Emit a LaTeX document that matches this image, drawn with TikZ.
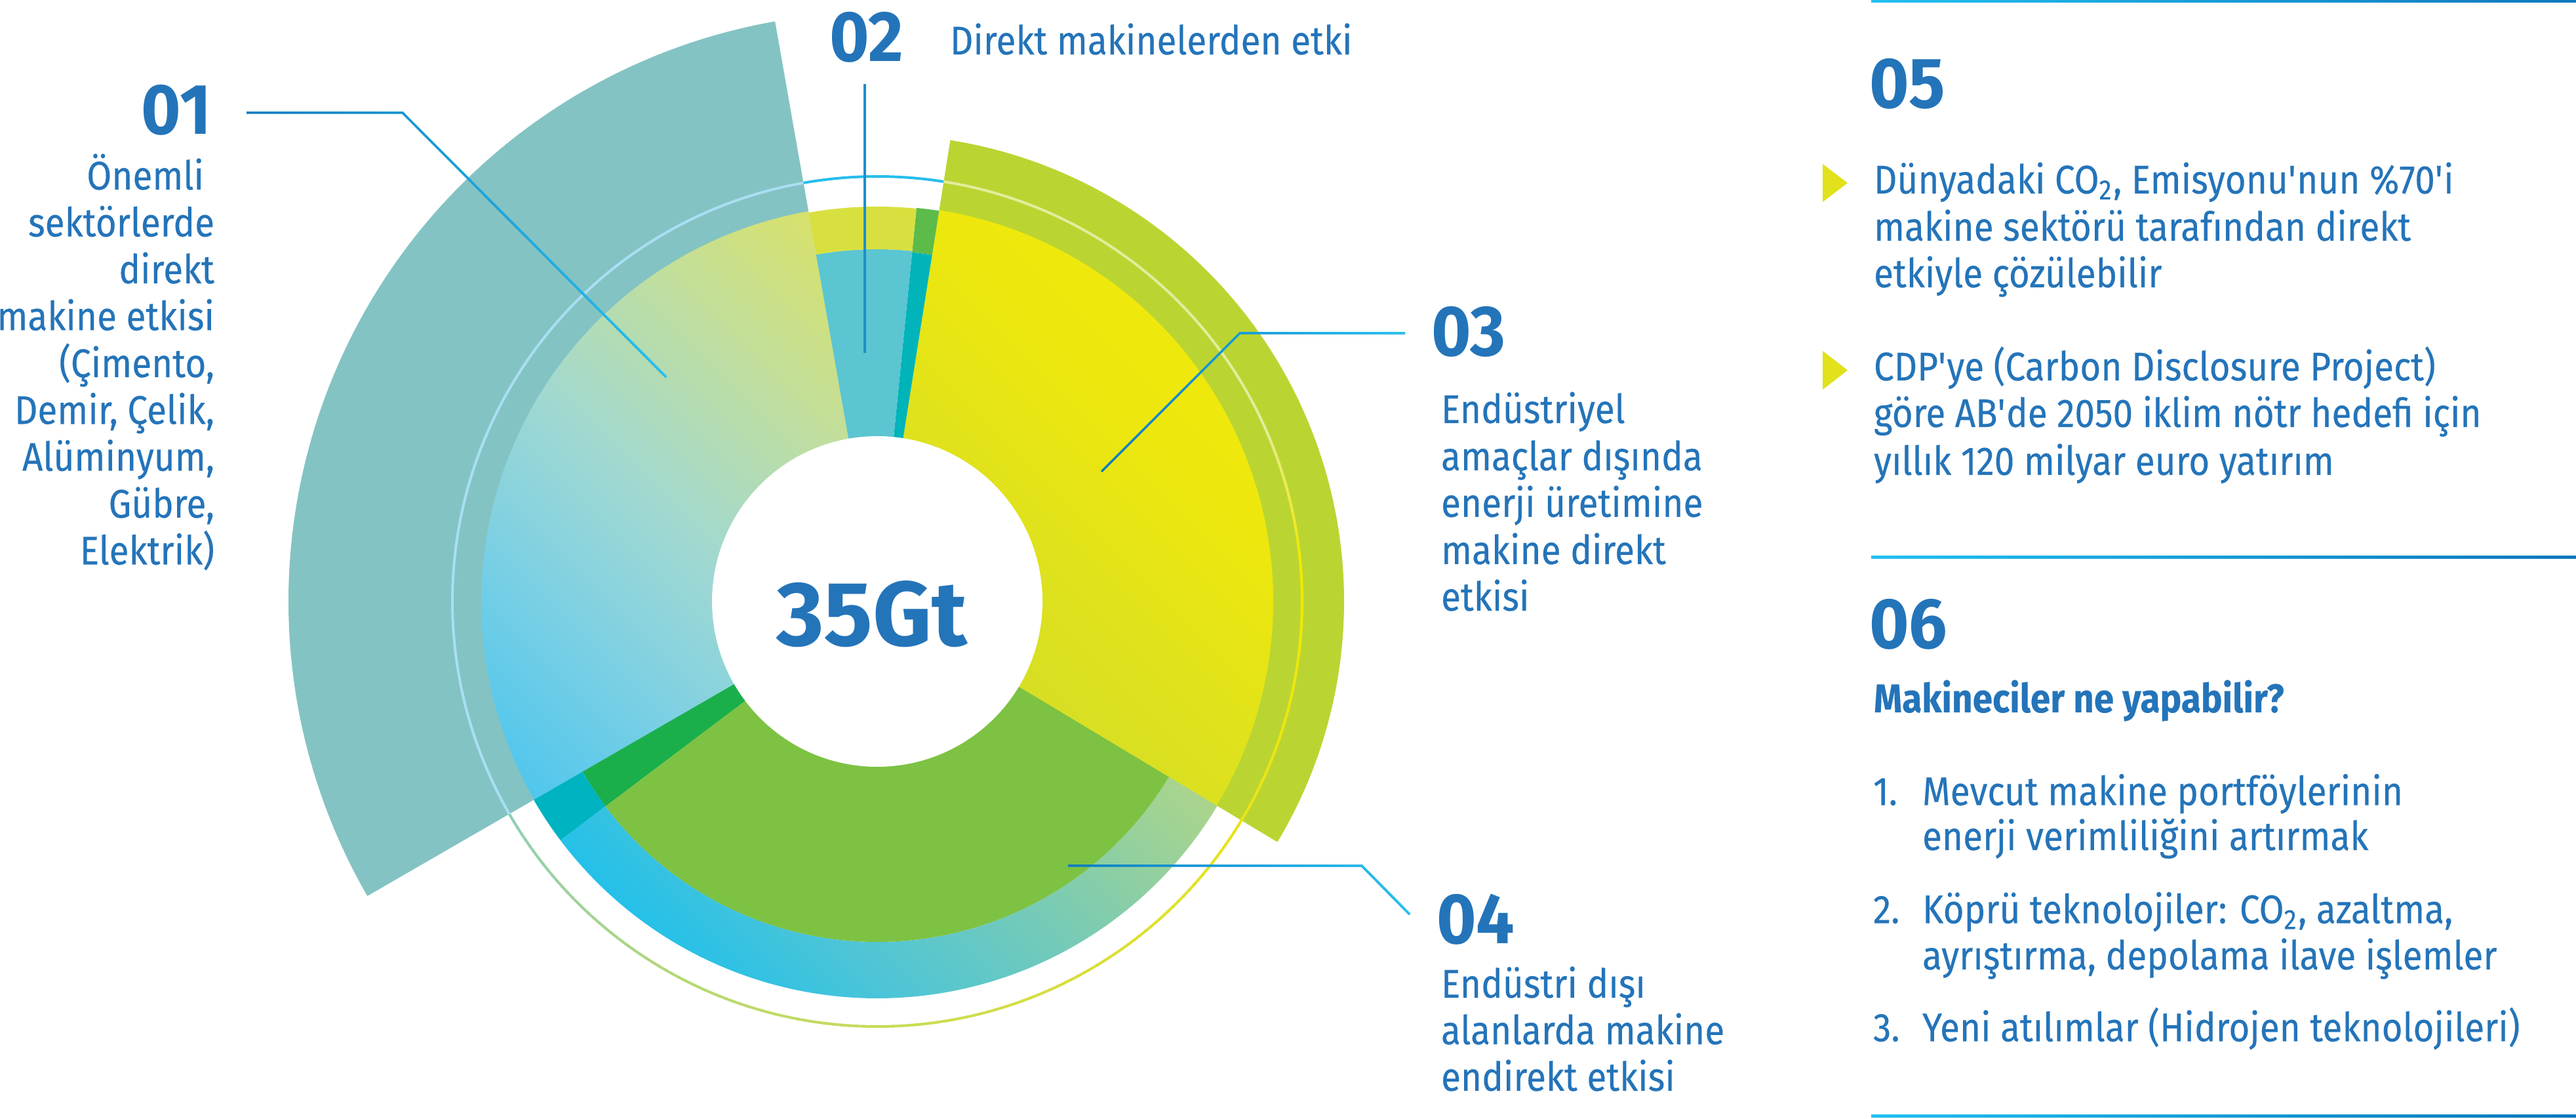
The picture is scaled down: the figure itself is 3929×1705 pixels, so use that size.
\documentclass[tikz,border=0pt]{standalone}
\usepackage{fontspec}
\setmainfont{Fira Sans}[FakeStretch=0.9, FakeBold=0.2]
\newfontfamily\numfont{Fira Sans}[FakeStretch=0.95]
\newfontfamily\bigfont{Fira Sans}
\usetikzlibrary{fadings}
\definecolor{txt}{HTML}{2474B9}
\definecolor{tealA}{HTML}{84C3C3}
\definecolor{greenA}{HTML}{BAD532}
\definecolor{green04}{HTML}{7DC243}
\definecolor{dkgreen}{HTML}{1BAF4B}
\definecolor{tealS}{HTML}{00B3C0}
\definecolor{blue02}{HTML}{5BC5D1}
\definecolor{band02}{HTML}{D8E040}
\definecolor{slivG}{HTML}{5DBB4A}
\definecolor{slivT}{HTML}{00B4BA}
\definecolor{lnDark}{HTML}{0A7CC2}
\definecolor{lnLight}{HTML}{29C3F1}
\definecolor{ln02}{HTML}{1E8ECB}
\definecolor{tri}{HTML}{E1E21B}
\definecolor{ruleL}{HTML}{22C0F0}
\definecolor{ruleR}{HTML}{0A77BD}
\definecolor{ga1}{HTML}{4EC6EE}
\definecolor{ga2}{HTML}{7DD0E3}
\definecolor{ga3}{HTML}{9FD8D3}
\definecolor{ga4}{HTML}{BEDEA2}
\definecolor{ga5}{HTML}{D8E16A}
\definecolor{gb1}{HTML}{22C0EA}
\definecolor{gb2}{HTML}{4FC5D6}
\definecolor{gb3}{HTML}{78CBB5}
\definecolor{gb4}{HTML}{A4D391}
\definecolor{gb5}{HTML}{B6D683}
\definecolor{gc1}{HTML}{D4DD26}
\definecolor{gc2}{HTML}{E0E21B}
\definecolor{gc3}{HTML}{ECE70F}
\definecolor{gc4}{HTML}{EFE80C}
\definecolor{rCy}{HTML}{26BDEC}
\definecolor{rLB}{HTML}{A9DEF3}
\definecolor{rA}{HTML}{8ECFB6}
\definecolor{rB}{HTML}{B8D874}
\definecolor{rC}{HTML}{D9DF3A}
\definecolor{rD}{HTML}{E8E41A}
\definecolor{rE}{HTML}{F2E900}
\definecolor{rF}{HTML}{E4EC9C}
\pgfdeclareverticalshading{gradA}{100bp}{color(0bp)=(ga1); color(28.57bp)=(ga1); color(37.5bp)=(ga2); color(44.64bp)=(ga3); color(53.57bp)=(ga4); color(62.5bp)=(ga5); color(100bp)=(ga5)}
\pgfdeclareverticalshading{gradB}{100bp}{color(0bp)=(gb1); color(27.86bp)=(gb1); color(35.71bp)=(gb2); color(44.64bp)=(gb3); color(53.57bp)=(gb4); color(58.93bp)=(gb5); color(100bp)=(gb5)}
\pgfdeclareverticalshading{gradC}{100bp}{color(0bp)=(gc1); color(50bp)=(gc1); color(58.93bp)=(gc2); color(66.07bp)=(gc3); color(71.4bp)=(gc4); color(100bp)=(gc4)}
\tikzfading[name=faderight, left color=transparent!100, right color=transparent!0]
\newcommand\myannsec[4]{(#1:#4) arc[start angle=#1, end angle=#2, radius=#4] -- (#2:#3) arc[start angle=#2, end angle=#1, radius=#3] -- cycle}
\newcommand\mysector[3]{(0,0) -- (#1:#3) arc[start angle=#1, end angle=#2, radius=#3] -- cycle}
\newcommand\ringarc[4]{%
  \pgfmathtruncatemacro\nsteps{#2-#1}%
  \foreach \k in {1,...,\nsteps}{%
    \pgfmathsetmacro\aS{#1+\k-1}%
    \pgfmathsetmacro\aE{#1+\k+0.3}%
    \pgfmathsetmacro\pc{100*(\k-0.5)/\nsteps}%
    \colorlet{rc}{#4!\pc!#3}%
    \draw[rc, line width=0.8pt] (\aS:648) arc[start angle=\aS, end angle=\aE, radius=648];
  }}
\begin{document}
\begin{tikzpicture}[x=0.2pt, y=0.2pt,
  num/.style={font=\numfont\fontsize{21.8pt}{24pt}\selectfont\bfseries, text=txt, inner sep=0pt},
  body/.style={font=\fontsize{12.2pt}{14.6pt}\selectfont, text=txt, inner sep=0pt},
  bodyb/.style={font=\fontsize{12.2pt}{14.6pt}\selectfont\bfseries, text=txt, inner sep=0pt},
  conn/.style={line width=0.7pt},
  rule/.style={left color=ruleL, right color=ruleR},
  bullet/.style={fill=tri}
]
\useasboundingbox[fill=white] (0,0) rectangle (3929,1705);
\coordinate (C) at (1338,788);
\begin{scope}[shift={(C)}]
  \fill[tealA] \mysector{100}{210}{898};
  \fill[greenA] \mysector{-31}{81}{712};
  \begin{scope}
    \clip \mysector{100}{210}{604};
    \shade[shading=gradA, shading angle=-45] (-700,-700) rectangle (700,700);
  \end{scope}
  \fill[dkgreen] \mysector{210}{217}{519};
  \fill[tealS] \myannsec{210}{217}{519}{605};
  \begin{scope}
    \clip \myannsec{217}{329}{519}{605};
    \shade[shading=gradB, shading angle=-45] (-700,-700) rectangle (700,700);
  \end{scope}
  \fill[green04] \mysector{217}{329}{519};
  \begin{scope}
    \clip \mysector{-31}{81}{604};
    \shade[shading=gradC, shading angle=-45] (-700,-700) rectangle (700,700);
  \end{scope}
  \fill[slivT] \mysector{81}{84.3}{535};
  \fill[slivG] \myannsec{81}{84.3}{535}{603};
  \fill[blue02] \mysector{84.3}{100}{537};
  \fill[band02] \myannsec{84.3}{100}{537}{602};
  % thin outer ring
  \draw[rCy, line width=0.8pt] (81:648) arc[start angle=81, end angle=100.3, radius=648];
  \draw[rLB, line width=0.8pt] (100:648) arc[start angle=100, end angle=210.3, radius=648];
  \ringarc{210}{244}{rA}{rB}
  \ringarc{244}{300}{rB}{rC}
  \ringarc{300}{329}{rC}{rD}
  \ringarc{329}{366}{rD}{rE}
  \ringarc{366}{384}{rE}{rF}
  \draw[rF, line width=0.8pt] (384:648) arc[start angle=384, end angle=441, radius=648];
  \fill[white] (0,0) circle[radius=252];
\end{scope}
\node[font=\bigfont\fontsize{27.9pt}{30pt}\selectfont\bfseries, text=txt, inner sep=0pt, anchor=base] (tot) at (1330,720) {35Gt};

% connectors
\coordinate (c01s) at (376,1533);
\coordinate (c01k) at (614,1533);
\coordinate (c01e) at (1016,1130);
\coordinate (c02s) at (1319,1577);
\coordinate (c02e) at (1319,1167);
\coordinate (c03e) at (1680,986);
\coordinate (c03k) at (1891,1197);
\coordinate (c03s) at (2143,1197);
\coordinate (c04e) at (1629,385);
\coordinate (c04k) at (2077,385);
\coordinate (c04s) at (2150,311);
\draw[conn, lnDark] (c01s) -- (c01k) -- (c01e);
\draw[conn, lnLight, path fading=faderight] (c01s) -- (c01k) -- (c01e);
\draw[conn, ln02] (c02s) -- (c02e);
\draw[conn, lnDark] (c03e) -- (c03k) -- (c03s);
\draw[conn, lnLight, path fading=faderight] (c03e) -- (c03k) -- (c03s);
\draw[conn, lnDark] (c04e) -- (c04k) -- (c04s);
\draw[conn, lnLight, path fading=faderight] (c04e) -- (c04k) -- (c04s);

% 01
\node[num, anchor=base east] (n01) at (323,1500) {01};
\node[body, anchor=base east] (t01a) at (312,1416) {Önemli};
\node[body, anchor=base east] (t01b) at (328,1344.5) {sektörlerde};
\node[body, anchor=base east] (t01c) at (328,1273) {direkt};
\node[body, anchor=base east] (t01d) at (328,1201.6) {makine etkisi};
\node[body, anchor=base east] (t01e) at (328,1130) {(Çimento,};
\node[body, anchor=base east] (t01f) at (328,1058.7) {Demir, Çelik,};
\node[body, anchor=base east] (t01g) at (328,987.3) {Alüminyum,};
\node[body, anchor=base east] (t01h) at (328,915.8) {Gübre,};
\node[body, anchor=base east] (t01i) at (328,844.4) {Elektrik)};
% 02
\node[num, anchor=base west] (n02) at (1264,1611) {02};
\node[body, anchor=base west] (t02) at (1448,1622) {Direkt makinelerden etki};
% 03
\node[num, anchor=base west] (n03) at (2182,1162) {03};
\node[body, anchor=base west] (t03a) at (2197,1060) {Endüstriyel};
\node[body, anchor=base west] (t03b) at (2197,988) {amaçlar dışında};
\node[body, anchor=base west] (t03c) at (2197,917) {enerji üretimine};
\node[body, anchor=base west] (t03d) at (2197,845) {makine direkt};
\node[body, anchor=base west] (t03e) at (2197,774) {etkisi};
% 04
\node[num, anchor=base west] (n04) at (2190,266.5) {04};
\node[body, anchor=base west] (t04a) at (2197,184) {Endüstri dışı};
\node[body, anchor=base west] (t04b) at (2197,113) {alanlarda makine};
\node[body, anchor=base west] (t04c) at (2197,42) {endirekt etkisi};

% right panel
\shade[rule] (2854,1701) rectangle (3929,1705);
\shade[rule] (2854,853) rectangle (3929,857);
\shade[rule] (2854,2) rectangle (3929,6);
\node[num, anchor=base west] (n05) at (2850,1540) {05};
\fill[bullet] (2780,1455) -- (2780,1397) -- (2818,1426) -- cycle;
\node[body, anchor=base west] (t05a) at (2857,1410) {Dünyadaki CO\textsubscript{2}, Emisyonu\textquotesingle nun \%70\textquotesingle i};
\node[body, anchor=base west] (t05b) at (2857,1338) {makine sektörü tarafından direkt};
\node[body, anchor=base west] (t05c) at (2857,1267) {etkiyle çözülebilir};
\fill[bullet] (2780,1170) -- (2780,1111) -- (2818,1140.5) -- cycle;
\node[body, anchor=base west] (t05d) at (2857,1125) {CDP\textquotesingle ye (Carbon Disclosure Project)};
\node[body, anchor=base west] (t05e) at (2857,1054) {göre AB\textquotesingle de 2050 iklim nötr hedefi için};
\node[body, anchor=base west] (t05f) at (2857,981) {yıllık 120 milyar euro yatırım};
\node[num, anchor=base west] (n06) at (2850,716) {06};
\node[bodyb, anchor=base west] (t06h) at (2857,619) {Makineciler ne yapabilir?};
\node[body, anchor=base west] (t06n1) at (2856,477.5) {1.};
\node[body, anchor=base west] (t06a) at (2931,477.5) {Mevcut makine portföylerinin};
\node[body, anchor=base west] (t06b) at (2931,409) {enerji verimliliğini artırmak};
\node[body, anchor=base west] (t06n2) at (2856,297.5) {2.};
\node[body, anchor=base west] (t06c) at (2931,297.5) {Köprü teknolojiler: CO\textsubscript{2}, azaltma,};
\node[body, anchor=base west] (t06d) at (2931,227) {ayrıştırma, depolama ilave işlemler};
\node[body, anchor=base west] (t06n3) at (2856,117.5) {3.};
\node[body, anchor=base west] (t06e) at (2931,117.5) {Yeni atılımlar (Hidrojen teknolojileri)};
\end{tikzpicture}
\end{document}
